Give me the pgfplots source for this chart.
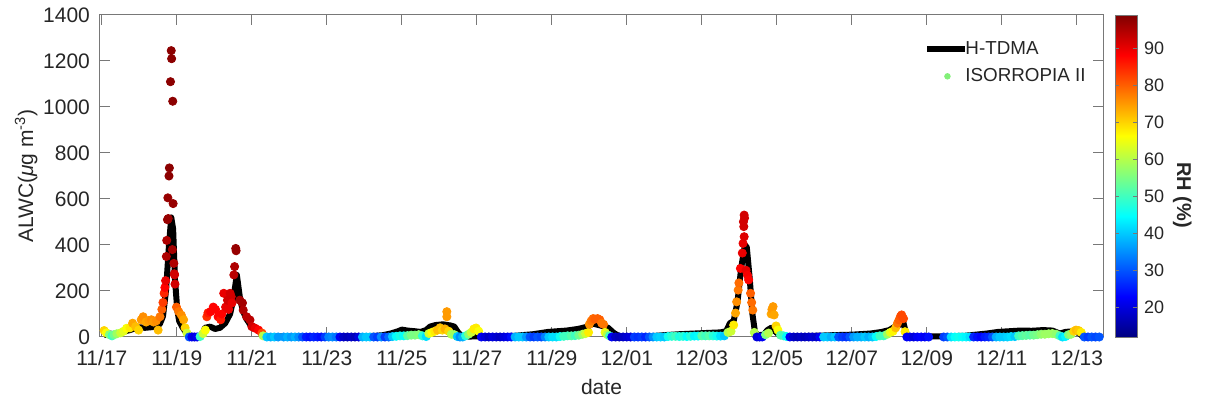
\documentclass[border=0pt]{standalone}
\usepackage{pgfplots}
\usepackage{pgfplotstable}
\pgfplotsset{compat=1.18}
\usepackage{fontspec}
\setmainfont{Liberation Sans}
\definecolor{axgray}{RGB}{120,120,120}
\definecolor{txt}{RGB}{38,38,38}
\definecolor{lgreen}{RGB}{130,240,120}

\pgfplotstableread{
d v
0.05 8
0.09 10
0.22 15
0.35 10
0.49 15
0.62 25
0.75 30
0.89 38
1.02 42
1.15 40
1.29 42
1.42 45
1.50 50
1.55 58
1.63 90
1.71 200
1.79 400
1.85 520
1.90 470
1.95 250
2.01 120
2.06 70
2.14 45
2.22 25
2.30 8
2.49 3
2.62 5
2.70 20
2.75 40
2.89 45
3.02 35
3.15 40
3.29 60
3.42 100
3.50 160
3.60 270
3.69 160
3.77 110
3.85 80
3.95 55
4.09 40
4.22 20
4.35 5
4.6 2
5.0 3
5.5 2
6.0 3
6.5 2
7.0 3
7.3 5
7.5 8
7.7 15
7.9 25
8.0 32
8.15 28
8.35 25
8.5 22
8.65 30
8.75 45
8.9 52
9.1 55
9.3 50
9.4 45
9.5 20
9.6 3
9.8 2
10.2 3
10.6 3
11.0 5
11.5 12
11.9 22
12.4 28
12.7 35
12.95 45
13.1 58
13.3 50
13.5 40
13.65 18
13.8 3
14.2 2
14.6 3
15.0 8
15.4 12
15.8 15
16.2 18
16.5 20
16.65 25
16.75 60
16.85 70
16.95 150
17.05 300
17.15 400
17.2 390
17.28 250
17.35 100
17.42 20
17.5 8
17.65 10
17.75 30
17.85 40
17.95 25
18.1 5
18.5 3
19.0 5
19.5 8
20.0 10
20.5 15
20.8 22
21.0 30
21.15 45
21.3 55
21.38 60
21.45 15
21.5 2
22.0 2
22.5 3
23.0 5
23.3 10
23.6 15
23.9 22
24.2 25
24.5 28
24.8 27
25.1 30
25.35 28
25.55 15
25.7 22
25.9 25
26.05 20
26.15 3
26.3 0
26.6 0
}\htdma

\pgfplotstableread{
d v rh
0.06 28 70
0.12 18 66
0.2 10 56
0.27 5 50
0.32 10 54
0.4 14 58
0.5 18 62
0.58 25 64
0.66 38 66
0.75 40 68
0.82 60 74
0.9 45 72
0.98 30 70
1.05 75 75
1.1 88 76
1.18 65 74
1.25 72 75
1.32 75 76
1.38 65 75
1.45 70 76
1.5 30 72
1.55 88 78
1.6 120 80
1.63 150 83
1.66 190 85
1.68 215 88
1.7 245 90
1.72 350 95
1.73 420 95
1.75 510 97
1.77 515 97
1.76 605 97
1.79 700 98
1.8 735 98
1.83 1110 98
1.85 1245 98
1.86 1210 98
1.89 1025 98
1.9 580 97
1.88 380 96
1.92 320 95
1.93 275 93
1.95 230 92
1.94 270 92
1.99 130 80
2.05 110 78
2.12 95 76
2.18 75 74
2.22 40 70
2.27 17 62
2.33 0 30
2.4 0 22
2.47 0 20
2.54 0 22
2.62 2 50
2.7 15 62
2.76 30 66
2.8 88 84
2.83 105 86
2.9 110 88
2.97 130 88
3.03 120 88
3.1 88 88
3.17 75 86
3.2 100 88
3.25 190 90
3.3 130 90
3.35 160 92
3.38 120 90
3.42 190 92
3.45 175 92
3.47 148 90
3.52 270 94
3.54 306 95
3.57 385 97
3.58 375 97
3.68 160 96
3.75 148 96
3.77 117 95
3.86 88 94
3.95 74 94
4.0 45 92
4.09 38 90
4.18 30 88
4.27 17 82
4.3 5 60
4.4 0 40
4.5 0 38
4.6 0 40
4.7 0 36
4.85 0 36
4.95 0 38
5.05 0 36
5.15 0 38
5.25 0 35
5.35 0 30
5.45 0 25
5.55 0 24
5.65 0 26
5.75 0 25
5.85 0 24
5.95 0 28
6.05 0 34
6.15 0 35
6.25 0 33
6.35 0 22
6.45 0 18
6.55 0 17
6.65 0 18
6.75 0 17
6.85 0 20
6.95 0 38
7.05 0 40
7.15 0 40
7.25 0 30
7.35 0 28
7.45 0 35
7.55 0 28
7.65 0 32
7.75 2 40
7.85 3 45
7.95 5 47
8.05 5 45
8.15 6 52
8.25 8 55
8.35 8 55
8.45 10 56
8.55 5 48
8.65 2 42
8.72 15 62
8.8 20 66
8.88 25 68
8.95 30 72
9.02 40 72
9.08 30 70
9.15 35 73
9.2 88 75
9.2 110 75
9.25 25 70
9.32 12 60
9.4 10 58
9.48 2 40
9.55 0 35
9.62 0 38
9.7 5 48
9.78 12 56
9.85 20 62
9.92 35 68
9.98 39 68
10.05 25 66
10.12 0 22
10.22 0 20
10.32 0 18
10.42 0 20
10.52 0 19
10.62 0 18
10.72 0 20
10.82 0 21
10.92 0 24
11.02 0 38
11.12 0 40
11.22 0 40
11.32 0 36
11.42 0 30
11.52 0 28
11.62 0 30
11.72 0 29
11.82 0 34
11.92 0 40
12.02 0 42
12.12 0 42
12.22 2 46
12.32 3 50
12.42 5 50
12.52 5 52
12.62 6 50
12.72 8 54
12.82 12 58
12.9 15 62
12.98 20 68
13.0 55 76
13.05 70 78
13.1 80 79
13.15 78 80
13.22 80 80
13.28 75 80
13.33 60 78
13.38 55 78
13.42 20 65
13.48 10 60
13.54 5 50
13.6 0 22
13.7 0 18
13.8 0 17
13.9 0 18
14.0 0 19
14.1 0 20
14.2 0 28
14.3 0 27
14.4 0 28
14.5 0 26
14.6 0 30
14.7 0 35
14.8 0 40
14.9 0 41
15.0 0 40
15.1 2 46
15.2 3 48
15.3 3 50
15.4 2 47
15.5 3 48
15.6 2 45
15.7 3 48
15.8 4 44
15.9 4 45
16.0 5 52
16.1 5 50
16.2 5 52
16.3 5 48
16.4 4 46
16.5 4 42
16.6 5 40
16.7 20 60
16.78 25 62
16.85 52 68
16.9 104 74
16.93 153 76
16.97 204 78
16.99 235 79
17.03 298 88
17.08 365 90
17.1 407 90
17.13 436 91
17.12 480 92
17.11 501 92
17.14 517 92
17.13 530 92
17.18 290 90
17.22 268 89
17.25 248 88
17.3 190 80
17.33 150 79
17.36 117 78
17.4 20 60
17.47 0 20
17.54 0 20
17.61 0 22
17.7 10 55
17.78 17 60
17.85 100 74
17.87 120 75
17.9 132 75
17.93 96 74
17.98 48 70
18.03 30 66
18.1 8 52
18.18 5 50
18.26 2 45
18.35 0 22
18.45 0 18
18.55 0 17
18.65 0 18
18.75 0 17
18.85 0 18
18.95 0 19
19.05 0 18
19.15 0 22
19.25 0 40
19.35 0 40
19.45 0 38
19.55 0 40
19.65 0 30
19.75 0 28
19.85 0 27
19.95 0 30
20.05 0 36
20.15 0 38
20.25 0 38
20.35 0 40
20.45 0 38
20.55 0 40
20.65 2 45
20.75 5 50
20.85 5 50
20.95 12 58
21.03 20 64
21.1 25 67
21.17 40 72
21.22 60 78
21.26 74 80
21.3 90 81
21.33 96 82
21.38 80 82
21.42 23 68
21.47 0 22
21.55 0 22
21.65 0 20
21.75 0 22
21.85 0 23
21.95 0 22
22.05 0 24
22.45 0 28
22.55 0 30
22.65 0 42
22.75 0 45
22.85 0 46
22.95 0 45
23.05 0 44
23.15 0 42
23.25 0 26
23.35 0 24
23.45 0 23
23.55 0 25
23.65 0 26
23.75 0 30
23.85 0 38
23.95 0 40
24.05 0 40
24.15 0 41
24.25 2 42
24.35 2 40
24.45 5 50
24.55 6 52
24.65 7 53
24.75 8 52
24.85 8 54
24.95 10 55
25.05 12 57
25.15 12 58
25.25 14 58
25.35 15 58
25.45 12 57
25.55 5 50
25.62 0 42
25.7 2 44
25.78 10 55
25.85 12 58
25.92 25 70
25.98 30 72
26.05 28 71
26.12 20 68
26.2 0 30
26.3 0 28
26.4 0 30
26.5 0 29
26.6 0 30
}\isor

\begin{document}
\begin{tikzpicture}
\begin{axis}[
  name=ax,
  scale only axis, width=501.5pt, height=161pt,
  xmin=-0.05, xmax=26.7, ymin=0, ymax=1400,
  clip=false,
  xtick={0,2,...,26},
  xticklabels={11/17,11/19,11/21,11/23,11/25,11/27,11/29,12/01,12/03,12/05,12/07,12/09,12/11,12/13},
  ytick={0,200,...,1400},
  /pgf/number format/assume math mode=true,
  /pgf/number format/set thousands separator={},
  scaled y ticks=false,
  tick label style={font=\fontsize{10.5}{12}\selectfont, text=txt},
  xticklabel style={yshift=-3pt},
  yticklabel style={xshift=-1.5pt},
  label style={font=\fontsize{10.5}{12}\selectfont, text=txt},
  xlabel={date},
  ylabel={ALWC(\textit{μ}g m\textsuperscript{-3})},
  ylabel style={yshift=-4pt},
  axis line style={axgray, line width=0.5pt},
  major tick style={axgray, line width=0.5pt},
  major tick length=5pt,
  tick align=inside,
  colormap/jet,
  point meta min=12, point meta max=99,
  colorbar,
  colorbar style={
    width=11pt,
    at={(parent axis.north east)}, anchor=north west, xshift=-2.5pt,
    ytick={20,30,...,90},
    yticklabel style={font=\fontsize{9}{10}\selectfont, text=txt, xshift=0pt},
    ylabel={\textbf{RH (\%)}},
    ylabel style={font=\fontsize{10}{12}\selectfont, rotate=180, text=txt, at={(ticklabel cs:0.44)}, yshift=-2.5pt},
    axis line style={axgray},
    major tick length=2pt,
    major tick style={axgray},
    /pgf/number format/assume math mode=true,
  },
  legend cell align=left,
  legend style={draw=none, fill=none, at={(0.99,0.935)}, anchor=north east,
    font=\fontsize{9.4}{11}\selectfont, text=txt, row sep=4.5pt, column sep=-2pt,
    nodes={inner sep=0.5pt}},
  scatter/use mapped color={draw=mapped color, fill=mapped color},
]
\addlegendimage{legend image code/.code={\draw[black, line width=3pt] (0pt,0pt) -- (19pt,0pt);}}
\addlegendentry{H-TDMA}
\addlegendimage{legend image code/.code={\fill[lgreen] (10pt,0pt) circle (1.4pt);}}
\addlegendentry{ISORROPIA II}
\addplot[black, line width=3pt, line join=round, forget plot] table[x=d,y=v] {\htdma};
\addplot[scatter, only marks, mark=*, mark size=2.05pt, scatter src=explicit, forget plot] table[x=d,y=v,meta=rh] {\isor};
\end{axis}
\path (ax.south west) ++(-50pt,-34pt) rectangle ++(603pt,202.5pt);
\end{tikzpicture}
\end{document}
